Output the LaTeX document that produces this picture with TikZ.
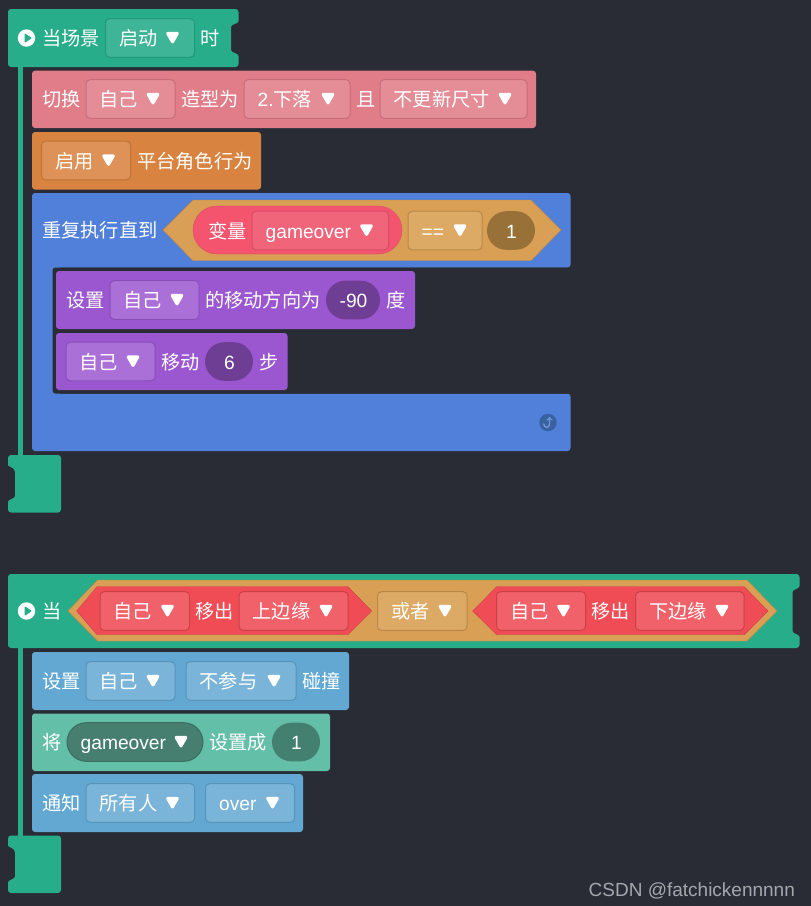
\documentclass[tikz,border=0pt]{standalone}
\usepackage{fontspec}
\setmainfont{Liberation Sans}
\newfontfamily\cjk{Noto Sans CJK SC}
\definecolor{pagebg}{HTML}{292C35}
\definecolor{hatgreen}{HTML}{27AD8A}
\definecolor{cutpink}{HTML}{E07D89}
\definecolor{ruleorange}{HTML}{D98340}
\definecolor{loopblue}{HTML}{5180DA}
\definecolor{hexorange}{HTML}{D9A055}
\definecolor{movepurple}{HTML}{9B57D0}
\definecolor{skyblue}{HTML}{62A8D2}
\definecolor{tealgreen}{HTML}{64BFA8}
\definecolor{redhex}{HTML}{EF4C55}
\definecolor{varfill}{HTML}{F4546E}
\definecolor{varmenufill}{HTML}{F1657B}
\definecolor{varline}{HTML}{D34F68}
\definecolor{tealmenufill}{HTML}{467F70}
\definecolor{tealline}{HTML}{3B6E60}
\definecolor{numbrown}{HTML}{977138}
\definecolor{numpurple}{HTML}{6E3E94}
\definecolor{numteal}{HTML}{43806F}
\definecolor{loopdark}{HTML}{37619F}
\definecolor{looptip}{HTML}{7598D8}
\definecolor{markgray}{HTML}{A4A7AB}
\tikzset{
    block/.style={rounded corners=3},
    lbl/.style={anchor=base west, inner sep=0, text=white, xshift=0.5pt, yshift=-7.7pt, font=\cjk\fontsize{19.2}{23}\selectfont},
    numlbl/.style={lbl, anchor=base, xshift=0pt},
    hatmenu/.style={fill=hatgreen!90!white, draw=hatgreen!88!black},
    cutmenu/.style={fill=cutpink!88!white, draw=cutpink!88!black},
    rulemenu/.style={fill=ruleorange!88!white, draw=ruleorange!88!black},
    hexmenu/.style={fill=hexorange!90!white, draw=hexorange!85!black},
    varmenu/.style={fill=varmenufill, draw=varline},
    purplemenu/.style={fill=movepurple!85!white, draw=movepurple!88!black},
    redmenu/.style={fill=redhex!88!white, draw=redhex!85!black},
    skymenu/.style={fill=skyblue!85!white, draw=skyblue!88!black},
    tealmenu/.style={fill=tealmenufill, draw=tealline, rounded corners=19.3},
    numpill/.style={rounded corners=19.3},
}
\newcommand{\droptri}[2]{\fill[white, rounded corners=3] (#1,#2) ++(-7.5,-6.2) -- ++(15,0) -- ++(-7.5,13.2) -- cycle;}
% name, left, right, middle, style, text
\newcommand{\menu}[6]{
    \draw[rounded corners=4, line width=1pt, #5] (#2,#4-19.3) rectangle (#3,#4+19.3);
    \node[lbl] (#1) at (#2+13,#4) {#6};
    \droptri{#3-22}{#4}
}
\newcommand{\hatfoot}[1]{
    \fill[hatgreen, rounded corners=3, shift={(0,#1)}] (8,0) -- (8,7)
        .. controls (8,12) and (15,12) .. (15,20) -- (15,38)
        .. controls (15,44) and (8,44) .. (8,50) -- (8,57.5) -- (61,57.5) -- (61,0) -- cycle;
}
\newcommand{\playicon}[1]{
    \fill[white] (26.5,#1) circle (8.7);
    \fill[hatgreen, rounded corners=1] (24.5,#1) ++(0,-5) -- ++(7.5,5) -- ++(-7.5,5) -- cycle;
}
\begin{document}
\begin{tikzpicture}[x=1pt, y=-1pt]
    \useasboundingbox (0,0) rectangle (811,906);
    \fill[pagebg] (0,0) rectangle (811,906);

    % First script: hat
    \fill[hatgreen] (17.5,60) rectangle (22.5,460);
    \fill[hatgreen, rounded corners=3] (8,9) -- (238.5,9) -- (238.5,18)
        .. controls (238.5,24) and (231,24) .. (231,30) -- (231,47)
        .. controls (231,53) and (238.5,53) .. (238.5,59) -- (238.5,67) -- (8,67) -- cycle;
    \playicon{38}
    \node[lbl] (scene) at (41.5,38) {当场景};
    \menu{start}{105.5}{194.5}{38}{hatmenu}{启动}
    \node[lbl] (when) at (200,38) {时};
    \hatfoot{455}

    % Costume block
    \fill[block, cutpink] (32,70.7) rectangle (536,128);
    \node[lbl] (cut) at (41.5,99) {切换};
    \menu{cutself}{86}{175}{99}{cutmenu}{自己}
    \node[lbl] (shape) at (180.5,99) {造型为};
    \menu{fall}{244}{350}{99}{cutmenu}{{\rmfamily 2.}下落}
    \node[lbl] (and) at (355.5,99) {且};
    \menu{resize}{380}{527}{99}{cutmenu}{不更新尺寸}

    % Platform block
    \fill[block, ruleorange] (32,132) rectangle (261,189.5);
    \menu{enable}{41.5}{130.5}{160.5}{rulemenu}{启用}
    \node[lbl] (platform) at (136.5,160.5) {平台角色行为};

    % Repeat block
    \fill[block, loopblue] (32,193) rectangle (570.5,267.5);
    \fill[loopblue] (32,260) rectangle (60,400);
    \fill[block, loopblue] (32,393.5) rectangle (570.5,451);
    \fill[block, pagebg] (52.5,267.5) rectangle (575,393.5);
    \node[lbl] (repeat) at (41.5,230) {重复执行直到};
    \draw[fill=hexorange, draw=hexorange!85!black] (163,230) -- (193,200) -- (531,200) -- (561,230) -- (531,260.7) -- (193,260.7) -- cycle;
    \draw[fill=varfill, draw=varline, rounded corners=24] (193,206) rectangle (402,254);
    \node[lbl] (variable) at (207.5,230.5) {变量};
    \menu{gameover}{252}{388.5}{230.5}{varmenu}{{\rmfamily gameover}}
    \menu{equals}{408}{482}{230.5}{hexmenu}{{\rmfamily ==}}
    \fill[numpill, fill=numbrown] (487,211.2) rectangle (535,249.8);
    \node[numlbl] (limit) at (511,230.5) {\rmfamily 1};
    \fill[loopdark] (548,422.5) circle (8.7);
    \draw[looptip, line width=1.3pt, ->] (543.5,423.5) .. controls (544,428.5) and (549.5,428.5) .. (549.5,424) -- (549.5,417);

    % Direction block
    \fill[block, movepurple] (56,271) rectangle (415,329);
    \node[lbl] (setdir) at (65.5,300) {设置};
    \menu{dirself}{110}{199}{300}{purplemenu}{自己}
    \node[lbl] (direction) at (204.5,300) {的移动方向为};
    \fill[numpill, fill=numpurple] (326,280.7) rectangle (380,319.3);
    \node[numlbl] (angle) at (353,300) {\rmfamily -90};
    \node[lbl] (degree) at (385.5,300) {度};

    % Move block
    \fill[block, movepurple] (56,333) rectangle (287.5,390);
    \menu{moveself}{66}{155}{361.5}{purplemenu}{自己}
    \node[lbl] (move) at (160.5,361.5) {移动};
    \fill[numpill, fill=numpurple] (205,342.2) rectangle (253,380.8);
    \node[numlbl] (steps) at (229,361.5) {\rmfamily 6};
    \node[lbl] (step) at (258.5,361.5) {步};

    % Second script: hat
    \fill[hatgreen] (17.5,640) rectangle (22.5,840);
    \fill[hatgreen, rounded corners=3] (8,574) -- (799.5,574) -- (799.5,583)
        .. controls (799.5,589) and (792.5,589) .. (792.5,595) -- (792.5,628)
        .. controls (792.5,634) and (799.5,634) .. (799.5,640) -- (799.5,648) -- (8,648) -- cycle;
    \playicon{611}
    \node[lbl] (whenedge) at (41.5,611) {当};
    \hatfoot{835.5}

    % Or condition
    \draw[fill=hexorange, draw=hexorange!85!black] (68,611) -- (97.5,580) -- (747,580) -- (777,611) -- (747,641) -- (97.5,641) -- cycle;
    \draw[fill=redhex, draw=redhex!85!black] (76.7,611) -- (97,586.7) -- (348,586.7) -- (371.7,611) -- (348,634.7) -- (97,634.7) -- cycle;
    \menu{leftself}{100}{189.5}{611}{redmenu}{自己}
    \node[lbl] (outa) at (194.5,611) {移出};
    \menu{topedge}{239}{348}{611}{redmenu}{上边缘}
    \menu{either}{377.5}{467}{611}{hexmenu}{或者}
    \draw[fill=redhex, draw=redhex!85!black] (472.7,611) -- (496.7,586.7) -- (744.3,586.7) -- (768,611) -- (744.3,634.7) -- (496.7,634.7) -- cycle;
    \menu{rightself}{496.5}{585.5}{611}{redmenu}{自己}
    \node[lbl] (outb) at (590.5,611) {移出};
    \menu{bottomedge}{635.5}{744}{611}{redmenu}{下边缘}

    % Collision block
    \fill[block, skyblue] (32,652) rectangle (349,710);
    \node[lbl] (setcoll) at (41.5,681) {设置};
    \menu{collself}{86}{175}{681}{skymenu}{自己}
    \menu{nojoin}{186}{296}{681}{skymenu}{不参与}
    \node[lbl] (collide) at (301.5,681) {碰撞};

    % Variable block
    \fill[block, tealgreen] (32,713.5) rectangle (330,771);
    \node[lbl] (let) at (41.5,742) {将};
    \menu{flag}{67}{203}{742}{tealmenu}{{\rmfamily gameover}}
    \node[lbl] (setto) at (208.5,742) {设置成};
    \fill[numpill, fill=numteal] (272,722.7) rectangle (320,761.3);
    \node[numlbl] (value) at (296,742) {\rmfamily 1};

    % Notify block
    \fill[block, skyblue] (32,774) rectangle (303,832);
    \node[lbl] (notify) at (41.5,803) {通知};
    \menu{everyone}{86}{194.5}{803}{skymenu}{所有人}
    \menu{over}{205.5}{294.5}{803}{skymenu}{{\rmfamily over}}

    % Watermark
    \node[lbl, text=markgray, font=\rmfamily\fontsize{19}{23}\selectfont] (mark) at (588,888.5) {CSDN @fatchickennnnn};
\end{tikzpicture}
\end{document}
